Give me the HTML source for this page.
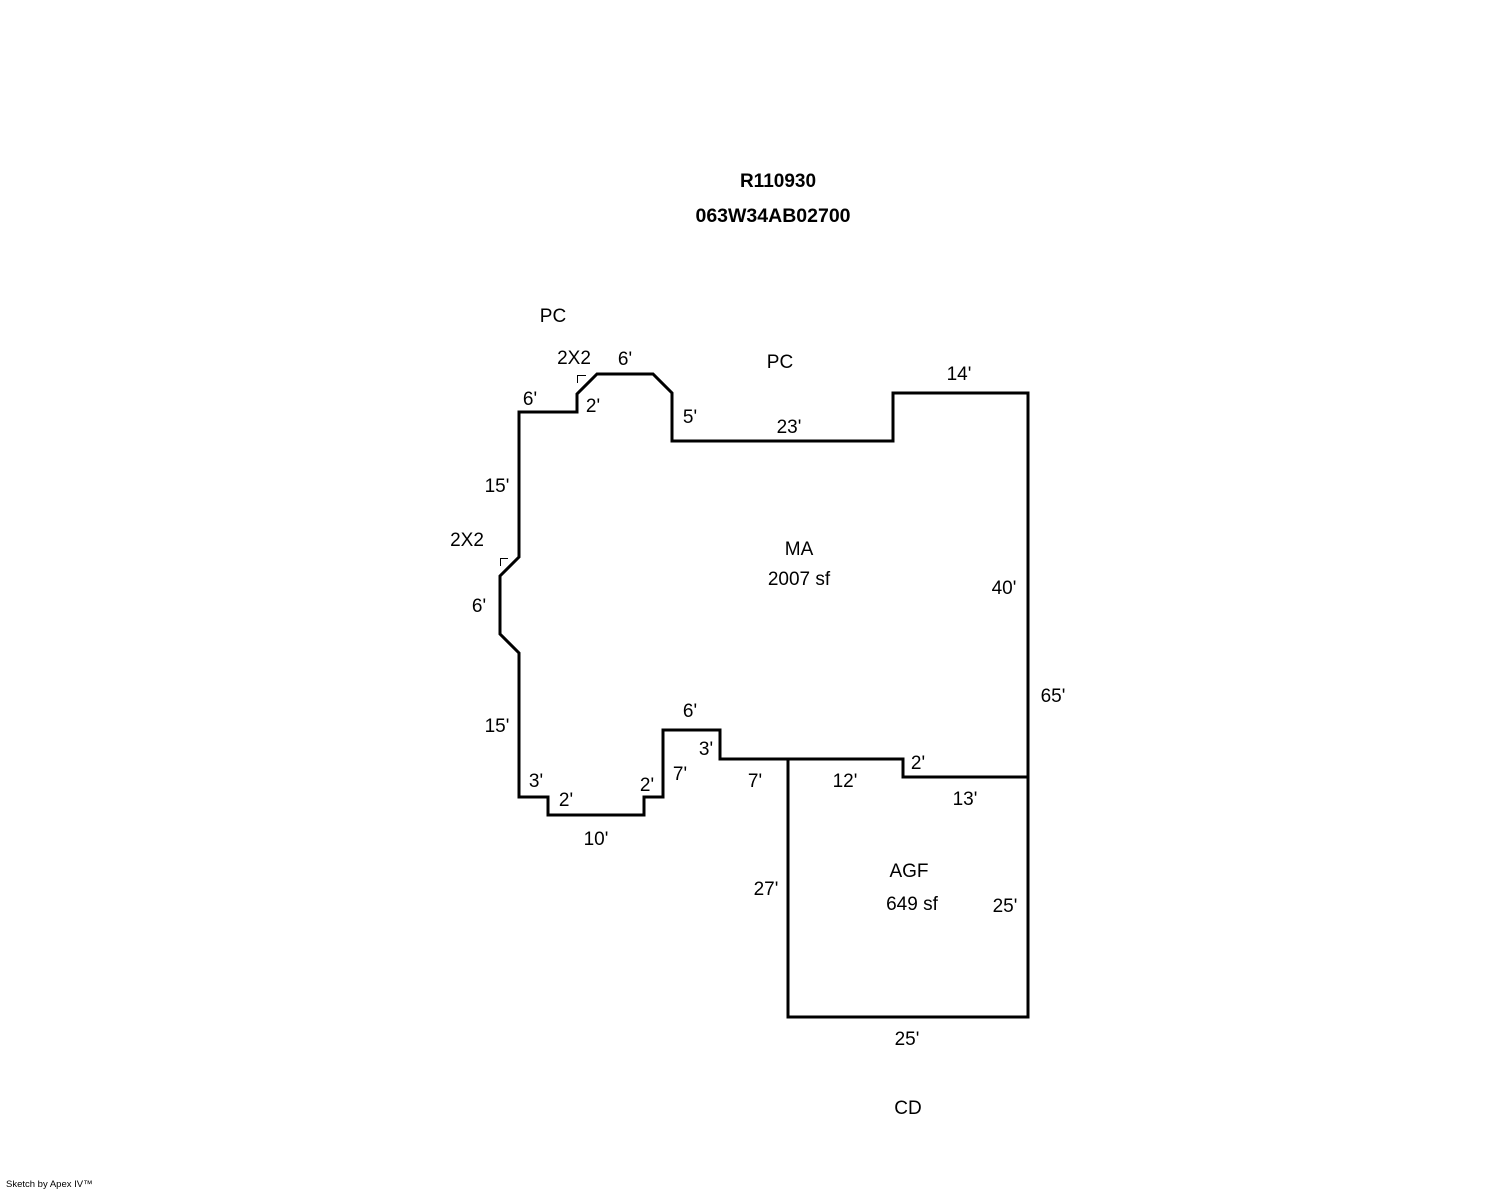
<!DOCTYPE html>
<html><head><style>
html,body{margin:0;padding:0;background:#fff;}
svg{display:block;font-family:"Liberation Sans",Arial,sans-serif;}
text{font-size:19px;fill:#000;text-anchor:middle;}
</style></head><body>
<svg width="1488" height="1190" viewBox="0 0 1488 1190">
<g fill="none" stroke="#000" stroke-width="3" stroke-linejoin="miter">
<path d="M519,412 L577,412 L577,394 L597,374 L653,374 L672,393 L672,441 L893,441 L893,393 L1028,393 L1028,777 L903,777 L903,759 L720,759 L720,730 L663,730 L663,797 L644,797 L644,815 L548,815 L548,797 L519,797 L519,653 L500,634 L500,576 L519,557 Z"/>
<path d="M788,759 L788,1017 L1028,1017 L1028,777"/>
</g>
<g fill="none" stroke="#000" stroke-width="1">
<path d="M577.5,383 L577.5,375.5 L586,375.5"/>
<path d="M500.5,566 L500.5,558.5 L508,558.5"/>
</g>
<g font-weight="bold"><text x="778" y="187" style="font-size:19px">R110930</text><text x="773" y="222" style="font-size:19.5px">063W34AB02700</text></g>
<text x="553" y="322">PC</text>
<text x="574" y="364">2X2</text>
<text x="625" y="365">6'</text>
<text x="780" y="368">PC</text>
<text x="959" y="380">14'</text>
<text x="530" y="405">6'</text>
<text x="593" y="412">2'</text>
<text x="690" y="423">5'</text>
<text x="789" y="433">23'</text>
<text x="497" y="492">15'</text>
<text x="467" y="546">2X2</text>
<text x="799" y="555">MA</text>
<text x="799" y="585">2007 sf</text>
<text x="1004" y="594">40'</text>
<text x="479" y="612">6'</text>
<text x="1053" y="702">65'</text>
<text x="690" y="717">6'</text>
<text x="497" y="732">15'</text>
<text x="706" y="755">3'</text>
<text x="918" y="769">2'</text>
<text x="680" y="780">7'</text>
<text x="536" y="787">3'</text>
<text x="755" y="787">7'</text>
<text x="845" y="787">12'</text>
<text x="647" y="791">2'</text>
<text x="566" y="806">2'</text>
<text x="965" y="805">13'</text>
<text x="596" y="845">10'</text>
<text x="909" y="877">AGF</text>
<text x="766" y="895">27'</text>
<text x="912" y="910">649 sf</text>
<text x="1005" y="912">25'</text>
<text x="907" y="1045">25'</text>
<text x="908" y="1114">CD</text>
<text x="6" y="1187" style="font-size:9.5px;text-anchor:start">Sketch by Apex IV™</text>
</svg>
</body></html>
